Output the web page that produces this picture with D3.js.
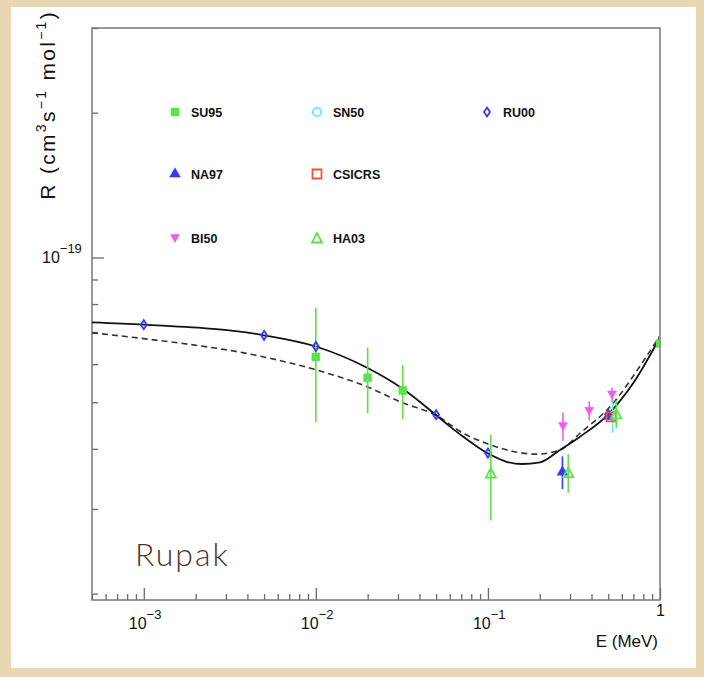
<!DOCTYPE html>
<html>
<head>
<meta charset="utf-8">
<script src="https://cdn.jsdelivr.net/npm/d3@7"></script>
<style>
  body { margin: 0; padding: 0; background: #e9d6b2; }
  svg { display: block; }
</style>
</head>
<body>
<div id="chart"></div>
<script>
// data (E in MeV, R in cm^3 s^-1 mol^-1)
var ru00E = [1e-3, 5e-3, 1e-2, 5e-2, 0.1, 0.5];
var ru00R = [7.25e-20, 6.89e-20, 6.53e-20, 4.71e-20, 3.92e-20, 4.72e-20];

var su95E = [0.01, 0.02, 0.032, 1.0];
var su95R = [6.21e-20, 5.62e-20, 5.29e-20, 6.62e-20];
var su95Err = [1.66e-20, 0.88e-20, 0.68e-20, 0.5e-20];

var na97E = [0.271, 0.5];
var na97R = [3.58e-20, 4.68e-20];
var na97Err = [0.28e-20, 0.08e-20];

var bi50E = [0.273, 0.388, 0.526];
var bi50R = [4.46e-20, 4.80e-20, 5.19e-20];
var bi50Err = [0.30e-20, 0.22e-20, 0.17e-20];

var sn50E = [0.53];
var sn50R = [4.68e-20];
var sn50Err = [0.36e-20];

var csicrsE = [0.52];
var csicrsR = [4.66e-20];
var csicrsErr = [0.05e-20];

var ha03E = [0.104, 0.293, 0.557];
var ha03R = [3.56e-20, 3.57e-20, 4.73e-20];
var ha03Err = [0.72e-20, 0.33e-20, 0.32e-20];

// solid curve
var fitE = [5e-4, 1e-3, 5e-3, 1e-2, 0.02, 0.0318, 0.0497, 0.0602, 0.0719, 0.0992, 0.1285, 0.157, 0.2008, 0.2623, 0.3428, 0.5006, 0.6997, 1.0];
var fitR = [7.33e-20, 7.25e-20, 6.89e-20, 6.53e-20, 5.89e-20, 5.34e-20, 4.71e-20, 4.45e-20, 4.24e-20, 3.92e-20, 3.76e-20, 3.72e-20, 3.75e-20, 3.98e-20, 4.24e-20, 4.72e-20, 5.48e-20, 6.82e-20];
// dashed curve
var altE = [5e-4, 1e-3, 5e-3, 1e-2, 0.02, 0.0318, 0.0499, 0.0719, 0.0992, 0.1404, 0.192, 0.2623, 0.3428, 0.5353, 0.7641, 1.0];
var altR = [6.97e-20, 6.78e-20, 6.21e-20, 5.84e-20, 5.38e-20, 4.99e-20, 4.70e-20, 4.31e-20, 4.10e-20, 3.95e-20, 3.90e-20, 3.98e-20, 4.31e-20, 4.98e-20, 5.94e-20, 6.88e-20];

var xTicks = [1e-3, 1e-2, 1e-1, 1];
var xTickExp = ["\u22123", "\u22122", "\u22121", ""];
var yTicks = [1e-19];
var yTickExp = ["\u221219"];

var W = 704, H = 677;
var margin = {top: 28, right: 44, bottom: 77, left: 92};
var width = W - margin.left - margin.right,
    height = H - margin.top - margin.bottom;

var green = "#5fe04f", blue = "#3a3af0", magenta = "#f05af0",
    cyan = "#5ff0f5", red = "#f0503c";

var svgRoot = d3.select("#chart").append("svg")
    .attr("width", W)
    .attr("height", H);

// parchment background and the white slide panel
svgRoot.append("rect").attr("width", W).attr("height", H).attr("fill", "#e9d6b2");
svgRoot.append("rect")
    .attr("x", 11).attr("y", 7)
    .attr("width", 685).attr("height", 661)
    .attr("fill", "white");

var svg = svgRoot.append("g")
    .attr("transform", "translate(" + margin.left + "," + margin.top + ")");

var x = d3.scaleLog().domain([5e-4, 1]).range([0, width]);
var y = d3.scaleLog().domain([1.94e-20, 3.0e-19]).range([height, 0]);

// minor ticks for each decade
function minorTicks(scale) {
  var d = scale.domain(), out = [];
  var lo = Math.floor(Math.log10(d[0])), hi = Math.ceil(Math.log10(d[1]));
  for (var p = lo; p <= hi; p++) {
    for (var m = 2; m <= 9; m++) {
      var v = m * Math.pow(10, p);
      if (v >= d[0] * 0.999 && v <= d[1] * 1.001) out.push(v);
    }
  }
  return out;
}

// X axis (ticks inward)
svg.append("g")
    .attr("transform", "translate(0," + height + ")")
    .call(d3.axisBottom(x).tickValues(minorTicks(x)).tickSize(-6).tickFormat(""))
    .call(function(g) { g.select(".domain").remove(); });
svg.append("g")
    .attr("transform", "translate(0," + height + ")")
    .call(d3.axisBottom(x).tickValues(xTicks).tickSize(-12).tickFormat(""))
    .call(function(g) { g.select(".domain").remove(); });

// Y axis (ticks inward)
svg.append("g")
    .call(d3.axisLeft(y).tickValues(minorTicks(y)).tickSize(-6).tickFormat(""))
    .call(function(g) { g.select(".domain").remove(); });
svg.append("g")
    .call(d3.axisLeft(y).tickValues(yTicks).tickSize(-12).tickFormat(""))
    .call(function(g) { g.select(".domain").remove(); });

svg.selectAll(".tick line").attr("stroke", "#6a6a6a").attr("stroke-width", 1.3);

// frame
svg.append("rect")
    .attr("width", width).attr("height", height)
    .attr("fill", "none")
    .attr("stroke", "#777").attr("stroke-width", 1.5);

// tick labels
var lblFont = "'Liberation Sans', Arial, sans-serif";
xTicks.forEach(function(v, i) {
  var t = svg.append("text")
      .attr("font-family", lblFont)
      .attr("fill", "#111");
  if (v === 1) {
    t.attr("x", x(v) - 4).attr("y", height + 16).attr("font-size", 16).text("1");
  } else {
    t.attr("x", x(v) - 15).attr("y", height + 29).attr("font-size", 16);
    t.append("tspan").text("10");
    t.append("tspan").attr("dy", -10).attr("font-size", 13).text(xTickExp[i]);
  }
});
yTicks.forEach(function(v, i) {
  var t = svg.append("text")
      .attr("font-family", lblFont)
      .attr("fill", "#111")
      .attr("x", -50).attr("y", y(v) + 6).attr("font-size", 16);
  t.append("tspan").text("10");
  t.append("tspan").attr("dy", -10).attr("font-size", 13).text(yTickExp[i]);
});

// axis titles
svg.append("text")
    .attr("font-family", lblFont).attr("font-size", 17).attr("fill", "#111")
    .attr("text-anchor", "end")
    .attr("x", width - 2).attr("y", height + 47)
    .text("E (MeV)");

var yt = svg.append("text")
    .attr("font-family", lblFont).attr("font-size", 21).attr("fill", "#111")
    .attr("letter-spacing", 2.3)
    .attr("text-anchor", "end")
    .attr("transform", "translate(-37,-18) rotate(-90)");
yt.append("tspan").text("R (cm");
yt.append("tspan").attr("dy", -9).attr("font-size", 14).text("3");
yt.append("tspan").attr("dy", 9).text("s");
yt.append("tspan").attr("dy", -9).attr("font-size", 14).text("\u22121");
yt.append("tspan").attr("dy", 9).text(" mol");
yt.append("tspan").attr("dy", -9).attr("font-size", 14).text("\u22121");
yt.append("tspan").attr("dy", 9).text(")");

// signature
svg.append("text")
    .attr("x", 43).attr("y", 538)
    .attr("font-family", "Lato, 'Noto Sans', sans-serif")
    .attr("font-weight", 300)
    .attr("font-size", 32)
    .attr("letter-spacing", 2)
    .attr("fill", "#4a3228")
    .text("Rupak");

// clip for marks
svg.append("clipPath").attr("id", "clip")
  .append("rect").attr("x", -1).attr("y", 0).attr("width", width).attr("height", height);
var plot = svg.append("g").attr("clip-path", "url(#clip)");

// curves
var line = d3.line()
    .x(function(d) { return x(d[0]); })
    .y(function(d) { return y(d[1]); })
    .curve(d3.curveMonotoneX);

plot.append("path")
    .datum(altE.map(function(e, i) { return [e, altR[i]]; }))
    .attr("d", line)
    .attr("fill", "none")
    .attr("stroke", "#333")
    .attr("stroke-width", 1.6)
    .attr("stroke-dasharray", "6,4");

plot.append("path")
    .datum(fitE.map(function(e, i) { return [e, fitR[i]]; }))
    .attr("d", line)
    .attr("fill", "none")
    .attr("stroke", "#111")
    .attr("stroke-width", 1.8);

// marker shapes
var sym = {
  squareF: d3.symbol().type(d3.symbolSquare).size(64),
  circleO: d3.symbol().type(d3.symbolCircle).size(55),
  diamondO: function() { return "M0,-4.5L3,0L0,4.5L-3,0Z"; },
  triUpF: d3.symbol().type(d3.symbolTriangle).size(50),
  squareO: function() { return "M-4.5,-4.5H4.5V4.5H-4.5Z"; },
  triDownF: function() { return "M-4.5,-3.5H4.5L0,4.5Z"; },
  triUpO: function() { return "M0,-5L5,4.5H-5Z"; }
};

var sets = [
  {name: "SU95",   E: su95E,   R: su95R,   err: su95Err,   color: green,   shape: "squareF",  fill: true},
  {name: "SN50",   E: sn50E,   R: sn50R,   err: sn50Err,   color: cyan,    shape: "circleO",  fill: false},
  {name: "RU00",   E: ru00E,   R: ru00R,   err: null,      color: blue,    shape: "diamondO", fill: false},
  {name: "NA97",   E: na97E,   R: na97R,   err: na97Err,   color: blue,    shape: "triUpF",   fill: true},
  {name: "CSICRS", E: csicrsE, R: csicrsR, err: csicrsErr, color: red,     shape: "squareO",  fill: false},
  {name: "BI50",   E: bi50E,   R: bi50R,   err: bi50Err,   color: magenta, shape: "triDownF", fill: true},
  {name: "HA03",   E: ha03E,   R: ha03R,   err: ha03Err,   color: green,   shape: "triUpO",   fill: false}
];

function drawMarker(g, s, px, py) {
  g.append("path")
      .attr("d", sym[s.shape]())
      .attr("transform", "translate(" + px + "," + py + ")")
      .attr("fill", s.fill ? s.color : "none")
      .attr("stroke", s.color)
      .attr("stroke-width", s.fill ? 0.5 : 1.8);
}

sets.forEach(function(s) {
  s.E.forEach(function(e, i) {
    if (s.err) {
      plot.append("line")
          .attr("x1", x(e)).attr("x2", x(e))
          .attr("y1", y(s.R[i] + s.err[i])).attr("y2", y(s.R[i] - s.err[i]))
          .attr("stroke", s.color).attr("stroke-width", 1.6);
    }
    drawMarker(plot, s, x(e), y(s.R[i]));
  });
});

// legend
var legendPos = [[83, 84], [225, 84], [395, 84], [83, 146], [225, 146], [83, 210], [225, 210]];
sets.forEach(function(s, i) {
  var p = legendPos[i];
  drawMarker(svg, s, p[0], p[1]);
  svg.append("text")
      .attr("x", p[0] + 16).attr("y", p[1] + 5)
      .attr("font-family", lblFont)
      .attr("font-weight", "bold")
      .attr("font-size", 12.5)
      .attr("fill", "#111")
      .text(s.name);
});
</script>
</body>
</html>
